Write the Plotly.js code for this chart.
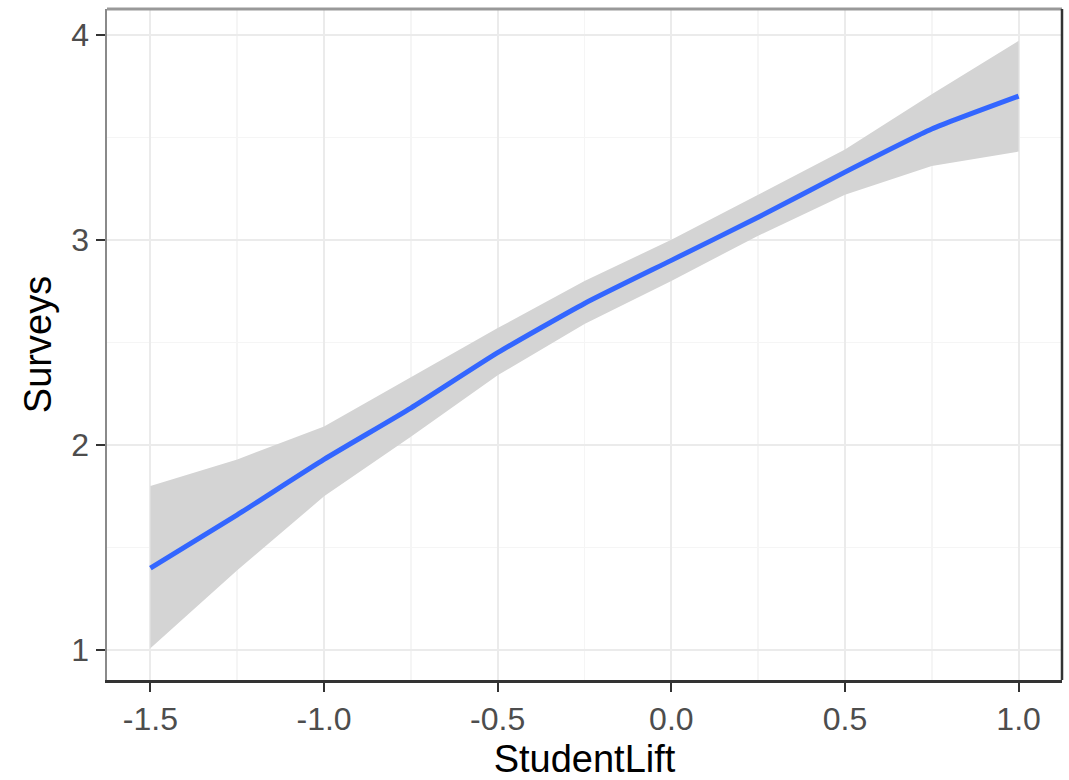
<!DOCTYPE html>
<html>
<head>
<meta charset="utf-8">
<script src="https://cdn.plot.ly/plotly-3.0.1.min.js"></script>
<style>html,body{margin:0;padding:0;background:#fff}#chart{width:1069px;height:780px}</style>
</head>
<body>
<div id="chart"></div>
<script>
const studentLift = [-1.5, -1.25, -1.0, -0.75, -0.5, -0.25, 0.0, 0.25, 0.5, 0.75, 1.0];
const surveysFit  = [1.40, 1.66, 1.93, 2.18, 2.45, 2.69, 2.90, 3.11, 3.33, 3.54, 3.70];
const surveysUpper = [1.80, 1.93, 2.09, 2.33, 2.57, 2.80, 3.00, 3.22, 3.44, 3.71, 3.97];
const surveysLower = [1.01, 1.39, 1.75, 2.04, 2.34, 2.59, 2.80, 3.02, 3.22, 3.36, 3.43];
const xTicks = [-1.5, -1.0, -0.5, 0.0, 0.5, 1.0];
const xTickLabels = ["-1.5", "-1.0", "-0.5", "0.0", "0.5", "1.0"];
const yTicks = [1, 2, 3, 4];
const yTickLabels = ["1", "2", "3", "4"];

const traces = [
  {x: studentLift, y: surveysLower, mode: 'lines', line: {width: 0, color: 'rgba(0,0,0,0)'}, hoverinfo: 'skip', showlegend: false},
  {x: studentLift, y: surveysUpper, mode: 'lines', fill: 'tonexty', fillcolor: '#d4d4d4', line: {width: 0, color: 'rgba(0,0,0,0)'}, hoverinfo: 'skip', showlegend: false},
  {x: studentLift, y: surveysFit, mode: 'lines', line: {color: '#3366FF', width: 5, shape: 'spline', smoothing: 0.5}, showlegend: false}
];

const font = 'Liberation Sans, Arial, sans-serif';
const layout = {
  width: 1069, height: 780,
  margin: {l: 107, r: 7, t: 9, b: 100},
  paper_bgcolor: '#ffffff', plot_bgcolor: '#ffffff',
  showlegend: false,
  xaxis: {
    range: [-1.625, 1.125],
    tickvals: xTicks, ticktext: xTickLabels,
    ticks: 'outside', ticklen: 9, tickwidth: 2, tickcolor: '#333333',
    tickfont: {family: font, size: 32, color: '#4d4d4d'},
    showgrid: true, gridcolor: '#ebebeb', gridwidth: 2,
    minor: {dtick: 0.25, tick0: 0, showgrid: true, gridcolor: '#f5f5f5', gridwidth: 1.5},
    zeroline: false,
    showline: true, linecolor: '#333333', linewidth: 2.5,
    title: {text: 'StudentLift', font: {family: font, size: 38, color: '#000000'}, standoff: 10}
  },
  yaxis: {
    range: [0.855, 4.125],
    tickvals: yTicks, ticktext: yTickLabels,
    ticks: 'outside', ticklen: 9, tickwidth: 2, tickcolor: '#333333',
    tickfont: {family: font, size: 32, color: '#4d4d4d'},
    showgrid: true, gridcolor: '#ebebeb', gridwidth: 2,
    minor: {dtick: 0.5, tick0: 0, showgrid: true, gridcolor: '#f5f5f5', gridwidth: 1.5},
    zeroline: false,
    showline: true, linecolor: '#8a8a8a', linewidth: 2.5,
    title: {text: 'Surveys', font: {family: font, size: 38, color: '#000000'}, standoff: 8}
  },
  shapes: [
    {type: 'line', xref: 'paper', yref: 'paper', x0: 0, x1: 1, y0: 1, y1: 1, line: {color: '#999999', width: 3}},
    {type: 'line', xref: 'paper', yref: 'paper', x0: 1, x1: 1, y0: 0, y1: 1, line: {color: '#333333', width: 2.5}}
  ]
};

Plotly.newPlot('chart', traces, layout, {displayModeBar: false, staticPlot: true});
</script>
</body>
</html>
